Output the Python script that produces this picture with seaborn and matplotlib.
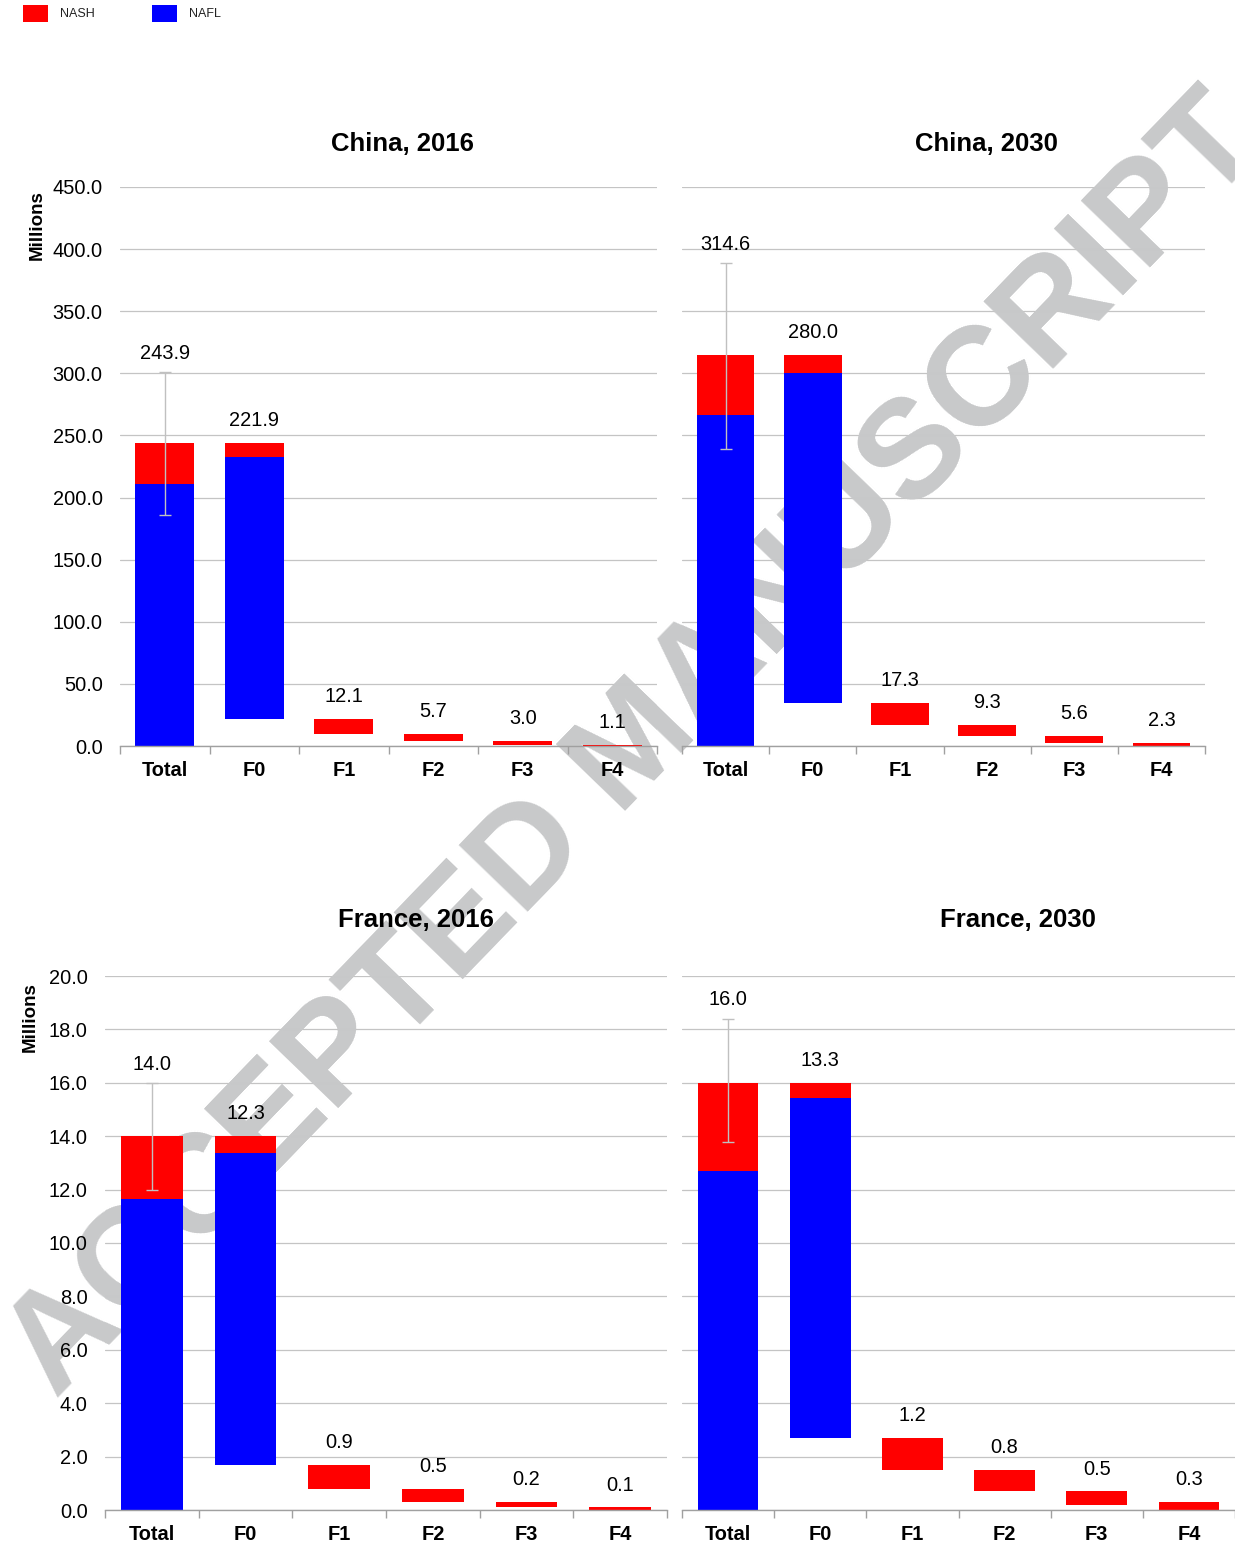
import matplotlib
matplotlib.use("Agg")
import matplotlib.pyplot as plt
from matplotlib.patches import Rectangle
import seaborn as sns

# ---- data -------------------------------------------------------------
stages = ["Total", "F0", "F1", "F2", "F3", "F4"]
panel_titles = ["China, 2016", "China, 2030", "France, 2016", "France, 2030"]

# population (millions) per fibrosis stage: Total, F0..F4
china_2016 = [243.9, 221.9, 12.1, 5.7, 3.0, 1.1]
china_2030 = [314.6, 280.0, 17.3, 9.3, 5.6, 2.3]
france_2016 = [14.0, 12.3, 0.9, 0.5, 0.2, 0.1]
france_2030 = [16.0, 13.3, 1.2, 0.8, 0.5, 0.3]

# split of the Total and F0 bars into NAFL / NASH
nafl_in_total = [211.0, 266.5, 11.65, 12.7]
nash_in_f0 = [11.2, 14.3, 0.63, 0.57]

# uncertainty interval on the Total bar
total_low = [186.0, 239.0, 12.0, 13.8]
total_high = [301.0, 389.0, 16.0, 18.4]

y_max = [450, 450, 20, 20]
y_step = [50, 50, 2, 2]

NASH_COLOR = "#ff0000"
NAFL_COLOR = "#0000ff"

# ---- style ------------------------------------------------------------
sns.set_theme(style="whitegrid")
plt.rcParams["font.family"] = ["Liberation Sans", "DejaVu Sans"]
plt.rcParams["axes.axisbelow"] = True
plt.rcParams["text.color"] = "black"

W, H = 1235, 1547
fig = plt.figure(figsize=(W / 100, H / 100), dpi=100)


def px_rect(left, right, top, bottom):
    return [left / W, 1 - bottom / H, (right - left) / W, (bottom - top) / H]


rects = [
    px_rect(120, 657, 187, 746),
    px_rect(682, 1205, 187, 746),
    px_rect(105, 667, 976, 1510),
    px_rect(682, 1235, 976, 1510),
]
title_pos = [(402, 144), (986, 144), (416, 920), (1018, 920)]
series = [china_2016, china_2030, france_2016, france_2030]

watermark = dict(s="ACCEPTED MANUSCRIPT", x=637 / W, y=1 - 747 / H,
                 rotation=46, rotation_mode="anchor", ha="center", va="center",
                 fontsize=101, fontweight="bold", color="#c8c9ca")

# watermark behind everything (visible in margins)
fig.text(zorder=-10, **watermark)

for k, vals in enumerate(series):
    ax = fig.add_axes(rects[k])
    ax.set_facecolor("none")

    # waterfall: each stage hangs below the previous one, the last sits on zero
    bottoms = [0.0] * 6
    top = vals[0]
    for i in range(1, 6):
        bottoms[i] = max(top - vals[i], 0.0) if i < 5 else 0.0
        top = bottoms[i]

    nafl_h = [nafl_in_total[k], vals[1] - nash_in_f0[k], 0, 0, 0, 0]
    nafl_b = [0.0, bottoms[1], 0, 0, 0, 0]
    nash_h = [vals[0] - nafl_in_total[k], nash_in_f0[k]] + vals[2:]
    nash_b = [nafl_in_total[k], bottoms[1] + nafl_h[1]] + bottoms[2:]

    sns.barplot(x=stages, y=nafl_h, order=stages, bottom=nafl_b, color=NAFL_COLOR,
                saturation=1, width=0.66, linewidth=0, errorbar=None, ax=ax)
    sns.barplot(x=stages, y=nash_h, order=stages, bottom=nash_b, color=NASH_COLOR,
                saturation=1, width=0.66, linewidth=0, errorbar=None, ax=ax)

    ax.errorbar([0], [vals[0]],
                yerr=[[vals[0] - total_low[k]], [total_high[k] - vals[0]]],
                fmt="none", ecolor="#c0c0c0", elinewidth=1.0, capsize=4,
                capthick=1.0, zorder=3)

    # value labels
    for i, v in enumerate(vals):
        if i == 0:
            ytop, off = total_high[k], 13.5
        else:
            ytop, off = bottoms[i] + v, 16
        ax.annotate(f"{v:.1f}", xy=(i, ytop), xytext=(0, off),
                    textcoords="offset points", ha="center", va="center",
                    fontsize=14.4, color="black", zorder=4)

    # watermark copy clipped to the axes, above grid, below bars
    ax.text(transform=fig.transFigure, zorder=0.8, clip_on=True, **watermark)

    ax.set_ylim(0, y_max[k])
    ax.set_xlim(-0.5, 5.5)
    ticks = [y_step[k] * j for j in range(int(y_max[k] / y_step[k]) + 1)]
    ax.set_yticks(ticks)
    if k % 2 == 0:
        ax.set_yticklabels([f"{t:.1f}" for t in ticks])
    else:
        ax.set_yticklabels([])
    ax.set_xlabel("")
    ax.set_ylabel("")

    ax.grid(axis="y", color="#c4c4c4", linewidth=0.9)
    ax.grid(axis="x", visible=False)
    for s in ("top", "right", "left"):
        ax.spines[s].set_visible(False)
    ax.spines["bottom"].set_color("#a0a0a0")
    ax.spines["bottom"].set_linewidth(1.0)

    ax.tick_params(axis="y", length=0, pad=12.5, labelsize=14.4, labelcolor="black")
    ax.tick_params(axis="x", which="major", length=0, pad=11, labelsize=14.4,
                   labelcolor="black")
    for lab in ax.get_xticklabels():
        lab.set_fontweight("bold")
    ax.set_xticks([i - 0.5 for i in range(7)], minor=True)
    ax.tick_params(axis="x", which="minor", bottom=True, length=6, width=1.0,
                   color="#a0a0a0", direction="out")

    tx, ty = title_pos[k]
    fig.text(tx / W, 1 - ty / H, panel_titles[k], ha="center", va="center",
             fontsize=18.5, fontweight="bold", color="black")

# axis titles
fig.text(37 / W, 1 - 225 / H, "Millions", rotation=90, ha="center", va="center",
         fontsize=13.5, fontweight="bold", color="black")
fig.text(30 / W, 1 - 1017 / H, "Millions", rotation=90, ha="center", va="center",
         fontsize=13.5, fontweight="bold", color="black")

# legend
for x0, col, lab in [(23, NASH_COLOR, "NASH"), (152, NAFL_COLOR, "NAFL")]:
    fig.patches.append(Rectangle((x0 / W, 1 - 22 / H), 25 / W, 17 / H,
                                 transform=fig.transFigure, facecolor=col,
                                 edgecolor="none"))
    fig.text((x0 + 37) / W, 1 - 14 / H, lab, ha="left", va="center", fontsize=9,
             color="#222222")

fig.savefig("out.png", dpi=100)
